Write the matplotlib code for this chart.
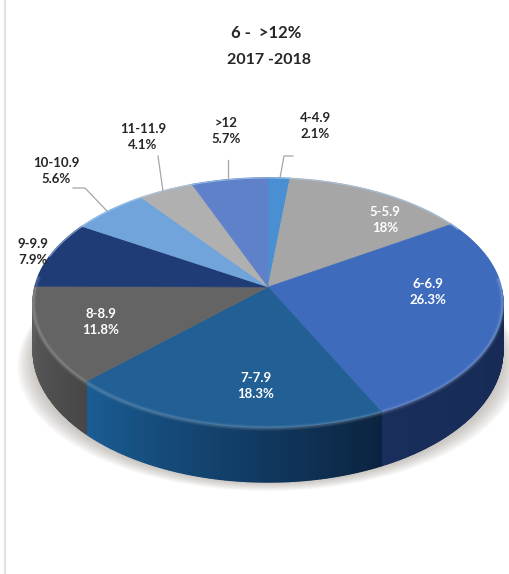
import numpy as np
import matplotlib
matplotlib.use("Agg")
import matplotlib.pyplot as plt
from matplotlib.colors import to_rgb

categories = ["4-4.9", "5-5.9", "6-6.9", "7-7.9", "8-8.9", "9-9.9", "10-10.9", "11-11.9", ">12"]
values = [2.1, 18, 26.3, 18.3, 11.8, 7.9, 5.6, 4.1, 5.7]
top_colors = ["#4a8fd2", "#a6a6a6", "#3f6bbd", "#215f94", "#646464", "#1f3c77", "#70a4da", "#b0b0b0", "#5f81c9"]
wall_a = ["#2a5a90", "#777777", "#14274f", "#0b2340", "#474747", "#14274f", "#4a78aa", "#777777", "#3f5a90"]
wall_b = ["#2a5a90", "#777777", "#192e5c", "#1a5d94", "#5e5e5e", "#14274f", "#4a78aa", "#777777", "#3f5a90"]
label_pos = [(315, 126), (385, 220), (428, 292), (256, 386), (101, 322), (33, 252), (56, 171), (143, 137), (226, 131)]
label_color = ["#262626", "white", "white", "white", "white", "#262626", "#262626", "#262626", "#262626"]
leaders = {
    "4-4.9": [(293, 156), (284, 156), (280, 178)],
    ">12": [(228, 160), (228, 179)],
    "11-11.9": [(158, 156), (163, 191)],
    "10-10.9": [(73, 188), (85, 188), (107, 211)],
}

cx, cy = 268, 287
A, B, k = 233, 122.6, 0.1245


def warp(deg):
    # excel's 3d view squeezes the slices on the right
    r = np.radians(deg)
    out = deg - 13 * np.sin(r / 2) - 4.55 * np.sin(r)
    out += 1.0 * np.exp(-((deg - 167) / 35) ** 2)
    out -= 3.5 * np.exp(-((deg - 72) / 30) ** 2)
    out -= 1.5 * np.exp(-((deg - 275) / 25) ** 2)
    return out


def project(deg):
    r = np.radians(deg)
    x, y = np.sin(r), np.cos(r)
    d = 1 + k * y
    return cx + A * x / d, cy - B * y / d, y


plt.rcParams["font.family"] = ["Lato", "DejaVu Sans"]
fig = plt.figure(figsize=(5.09, 5.74), dpi=100)
ax = fig.add_axes([0, 0, 1, 1])
ax.set_xlim(0, 509)
ax.set_ylim(574, 0)
ax.axis("off")

# grey line on the left of the screenshot
ax.plot([5, 5], [0, 574], color="#e2e2e2", lw=1.5)

cum = np.concatenate([[0], np.cumsum(values)]) / sum(values) * 360
edges = warp(cum)

# soft shadow
t = np.linspace(0, 360, 241)
sx, sy, sv = project(t)
for g in np.linspace(16, 0, 14):
    ax.fill(cx + (sx - cx) * (1 + g / 235), sy + 56 + g * 0.5, color="#8a7f78", alpha=0.035, lw=0)


def depth(y):
    return 47 + 8 * np.clip(-y, 0, 1)


# side wall, only the front half shows
for i in range(len(values)):
    th = np.linspace(edges[i], edges[i + 1], max(int(edges[i + 1] - edges[i]) * 2, 2) + 1)
    x, y, v = project(th)
    c0, c1 = np.array(to_rgb(wall_a[i])), np.array(to_rgb(wall_b[i]))
    for j in range(len(th) - 1):
        if v[j] > -0.02:
            continue
        f = j / (len(th) - 2) if len(th) > 2 else 0
        col = c0 + (c1 - c0) * f
        ax.fill([x[j], x[j + 1], x[j + 1], x[j]],
                [y[j], y[j + 1], y[j + 1] + depth(v[j + 1]), y[j] + depth(v[j])],
                fc=col, ec=col, lw=1.0)

# top face
for i in range(len(values)):
    th = np.linspace(edges[i], edges[i + 1], 80)
    x, y, v = project(th)
    ax.fill(np.r_[cx, x], np.r_[cy, y], color=top_colors[i], lw=0.4, ec=top_colors[i])
    ax.plot(x, y, color=top_colors[i], lw=1.2)

    # bevel on the rim
    front = v < 0.1
    if front.any():
        for w, a in [(4, 0.06), (2, 0.12)]:
            ax.plot(x[front], y[front] + 1, color="white", lw=w, alpha=a, solid_capstyle="butt")

# light edge along the back
x, y, v = project(np.linspace(-75, 60, 120))
ax.plot(x, y, color="#a9cdee", lw=0.8, alpha=0.7)

for pts in leaders.values():
    ax.plot(*zip(*pts), color="#a6a6a6", lw=0.9)

for name, val, pos, col in zip(categories, values, label_pos, label_color):
    ax.text(pos[0], pos[1], f"{name}\n{val:g}%", ha="center", va="center", color=col,
            fontsize=9.5, fontweight="bold", linespacing=1.4)

ax.text(266, 33, "6 -  >12%", ha="center", va="center", fontsize=12, fontweight="bold", color="#262626")
ax.text(269, 60, "2017 -2018", ha="center", va="center", fontsize=11.5, fontweight="bold", color="#262626")

fig.savefig("out.png", dpi=100)
